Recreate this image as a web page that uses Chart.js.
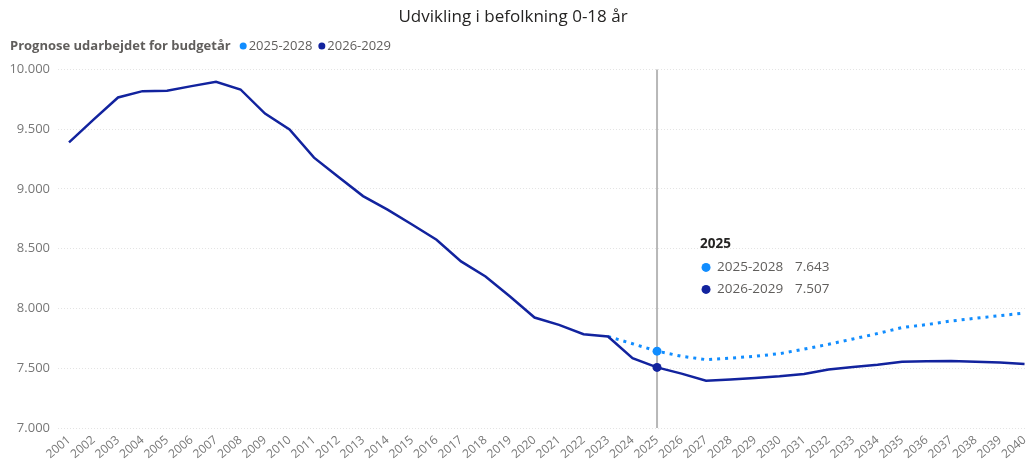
<!DOCTYPE html>
<html>
<head>
<meta charset="utf-8">
<script src="https://cdn.jsdelivr.net/npm/chart.js@4.4.1/dist/chart.umd.min.js"></script>
<style>
  html, body { margin: 0; padding: 0; background: #fff; }
  #wrap { width: 1026px; height: 461px; }
</style>
</head>
<body>
<div id="wrap"><canvas id="populationChart"></canvas></div>
<script>
const years = [
  2001, 2002, 2003, 2004, 2005, 2006, 2007, 2008, 2009, 2010,
  2011, 2012, 2013, 2014, 2015, 2016, 2017, 2018, 2019, 2020,
  2021, 2022, 2023, 2024, 2025, 2026, 2027, 2028, 2029, 2030,
  2031, 2032, 2033, 2034, 2035, 2036, 2037, 2038, 2039, 2040
];
// Prognose 2026-2029 (med historik)
const forecast2629 = [
  9390, 9580, 9765, 9818, 9822, 9860, 9897, 9832, 9630, 9497,
  9262, 9100, 8940, 8827, 8702, 8575, 8394, 8268, 8100, 7924,
  7863, 7785, 7765, 7584, 7507, 7455, 7395, 7405, 7418, 7432,
  7452, 7490, 7510, 7530, 7555, 7558, 7560, 7555, 7548, 7535
];
// Prognose 2025-2028
const forecast2528 = [
  null, null, null, null, null, null, null, null, null, null,
  null, null, null, null, null, null, null, null, null, null,
  null, null, 7765, 7705, 7643, 7600, 7572, 7585, 7600, 7622,
  7660, 7700, 7745, 7790, 7840, 7865, 7895, 7918, 7940, 7962
];
const yTicks = [7000, 7500, 8000, 8500, 9000, 9500, 10000];
const seriesLabels = ['2025-2028', '2026-2029'];
const seriesColors = ['#118DFF', '#12239E'];
const markerYear = 2025;

const fontFamily = '"Open Sans", "Noto Sans", sans-serif';

function formatDa(v) {
  return String(Math.round(v)).replace(/\B(?=(\d{3})+(?!\d))/g, '.');
}

const markerIndex = years.indexOf(markerYear);

// lodret linje, legende og fast tooltip
const overlayPlugin = {
  id: 'overlay',
  beforeDatasetsDraw(chart) {
    const { ctx, chartArea, scales } = chart;
    const x = scales.x.getPixelForValue(markerYear);
    ctx.save();
    ctx.strokeStyle = '#b8b8b8';
    ctx.lineWidth = 2;
    ctx.beginPath();
    ctx.moveTo(x, chartArea.top);
    ctx.lineTo(x, chartArea.bottom);
    ctx.stroke();
    ctx.restore();
  },
  afterDraw(chart) {
    const { ctx, chartArea, scales } = chart;
    ctx.save();
    ctx.textBaseline = 'middle';

    // legende
    let lx = 10;
    const ly = 46;
    ctx.font = 'bold 13px ' + fontFamily;
    ctx.fillStyle = '#605e5c';
    ctx.fillText('Prognose udarbejdet for budgetår', lx, ly);
    lx += ctx.measureText('Prognose udarbejdet for budgetår').width + 9;
    ctx.font = '13px ' + fontFamily;
    seriesLabels.forEach((label, i) => {
      ctx.fillStyle = seriesColors[i];
      ctx.beginPath();
      ctx.arc(lx + 3.5, ly, 3.5, 0, Math.PI * 2);
      ctx.fill();
      ctx.fillStyle = '#605e5c';
      ctx.fillText(label, lx + 9, ly);
      lx += 9 + ctx.measureText(label).width + 6;
    });

    // tooltip for markeret år
    const tx = scales.x.getPixelForValue(markerYear) + 43;
    const ty = chartArea.top + 175;
    ctx.font = 'bold 13.5px ' + fontFamily;
    ctx.fillStyle = '#252423';
    ctx.fillText(String(markerYear), tx, ty);
    const values = [forecast2528[markerIndex], forecast2629[markerIndex]];
    ctx.font = '13.5px ' + fontFamily;
    values.forEach((v, i) => {
      const rowY = ty + 23 + i * 22;
      ctx.fillStyle = seriesColors[i];
      ctx.beginPath();
      ctx.arc(tx + 6, rowY, 4.5, 0, Math.PI * 2);
      ctx.fill();
      ctx.fillStyle = '#605e5c';
      ctx.fillText(seriesLabels[i], tx + 17, rowY);
      ctx.fillText(formatDa(v), tx + 95, rowY);
    });
    ctx.restore();
  }
};

const markerRadius = (c) => (years[c.dataIndex] === markerYear ? 4.5 : 0);

const populationChart = new Chart(document.getElementById('populationChart'), {
  type: 'line',
  data: {
    datasets: [
      {
        label: seriesLabels[1],
        data: years.map((y, i) => ({ x: y, y: forecast2629[i] })),
        borderColor: seriesColors[1],
        backgroundColor: seriesColors[1],
        borderWidth: 2.5,
        pointRadius: markerRadius,
        pointBorderWidth: 0,
        tension: 0,
        order: 1
      },
      {
        label: seriesLabels[0],
        data: years.map((y, i) => ({ x: y, y: forecast2528[i] })),
        borderColor: seriesColors[0],
        backgroundColor: seriesColors[0],
        borderWidth: 3,
        borderDash: [3, 5],
        pointRadius: markerRadius,
        pointBorderWidth: 0,
        tension: 0,
        spanGaps: false,
        order: 2
      }
    ]
  },
  options: {
    responsive: true,
    maintainAspectRatio: false,
    animation: false,
    events: [],
    layout: { padding: { left: 0, right: 0, top: 0, bottom: 0 } },
    scales: {
      x: {
        type: 'linear',
        min: 2000.55,
        max: 2040.06,
        afterBuildTicks: (scale) => { scale.ticks = years.map(v => ({ value: v })); },
        afterFit: (scale) => {
          scale.height = 33;
          scale.paddingLeft = 0;
          scale.paddingRight = 0;
        },
        grid: { display: false },
        border: { display: false },
        ticks: {
          autoSkip: false,
          minRotation: 40,
          maxRotation: 40,
          padding: -3,
          color: '#777',
          font: { family: fontFamily, size: 12 },
          callback: (v) => String(v)
        }
      },
      y: {
        min: 7000,
        max: 10000,
        afterBuildTicks: (scale) => { scale.ticks = yTicks.map(v => ({ value: v })); },
        afterFit: (scale) => { scale.width = 58; },
        grid: { color: '#e4e4e4', lineWidth: 1, drawTicks: false },
        border: { display: false, dash: [1, 2] },
        ticks: {
          padding: 8,
          color: '#777',
          font: { family: fontFamily, size: 13 },
          callback: (v) => formatDa(v)
        }
      }
    },
    plugins: {
      legend: { display: false },
      tooltip: { enabled: false },
      title: {
        display: true,
        text: 'Udvikling i befolkning 0-18 år',
        color: '#252423',
        font: { family: fontFamily, size: 17, weight: 'normal' },
        padding: { top: 7, bottom: 42 }
      }
    }
  },
  plugins: [overlayPlugin]
});
</script>
</body>
</html>
